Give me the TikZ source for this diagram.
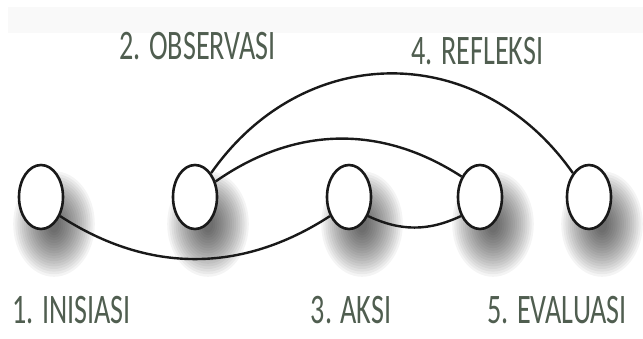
\documentclass[tikz,border=0pt]{standalone}
\usepackage{fontspec}
\setmainfont{Carlito}
\usetikzlibrary{shapes.geometric,calc}
\definecolor{labelcol}{RGB}{80,94,80}
\definecolor{linecol}{RGB}{25,25,25}
\tikzset{
  stage/.style={ellipse, draw=linecol, line width=2.6pt, fill=white,
    minimum width=44pt, minimum height=64pt, inner sep=0pt},
  link/.style={draw=linecol, line width=2.4pt},
  lbl/.style={text=labelcol, anchor=base, inner sep=0pt,
    font=\fontsize{42}{48}\selectfont}
}
\newcommand{\narrow}[1]{\scalebox{0.67}[1]{#1}}
\newcommand{\softshadow}[1]{%
  \foreach \k in {1,...,18}{
    \fill[black, opacity=0.045] ($(#1)+(13,-27)$) ellipse ({3+2.1*\k} and {6+2.6*\k});
  }}
\begin{document}
\begin{tikzpicture}[x=1pt,y=1pt]
\useasboundingbox (0,0) rectangle (643,338);
\fill[white] (0,0) rectangle (643,338);
\fill[black!2.5] (8,305) rectangle (643,331);
% positions
\coordinate (p1) at (41,141);
\coordinate (p2) at (195,141);
\coordinate (p3) at (349,141);
\coordinate (p4) at (480,141);
\coordinate (p5) at (589,141);
% shadows
\softshadow{p1}
\softshadow{p2}
\softshadow{p3}
\softshadow{p4}
\softshadow{p5}
% nodes
\node[stage] (n1) at (p1) {};
\node[stage] (n2) at (p2) {};
\node[stage] (n3) at (p3) {};
\node[stage] (n4) at (p4) {};
\node[stage] (n5) at (p5) {};
% connectors
\draw[link] (n1.-45) to[out=-33,in=-147] (n3.-135);
\draw[link] (n3.-45) to[out=-25,in=-155] (n4.-135);
\draw[link] (n2.37) to[out=35,in=147] (n4.132);
\draw[link] (n2.56) to[out=55,in=125,looseness=1.15] (n5.124);
% labels
\node[lbl] (l2) at (197.5,278) {\narrow{2. OBSERVASI}};
\node[lbl] (l4) at (477.5,273) {\narrow{4. REFLEKSI}};
\node[lbl] (l1) at (71.5,15) {\narrow{1. INISIASI}};
\node[lbl] (l3) at (351,15) {\narrow{3. AKSI}};
\node[lbl] (l5) at (557,15) {\narrow{5. EVALUASI}};
\end{tikzpicture}
\end{document}
